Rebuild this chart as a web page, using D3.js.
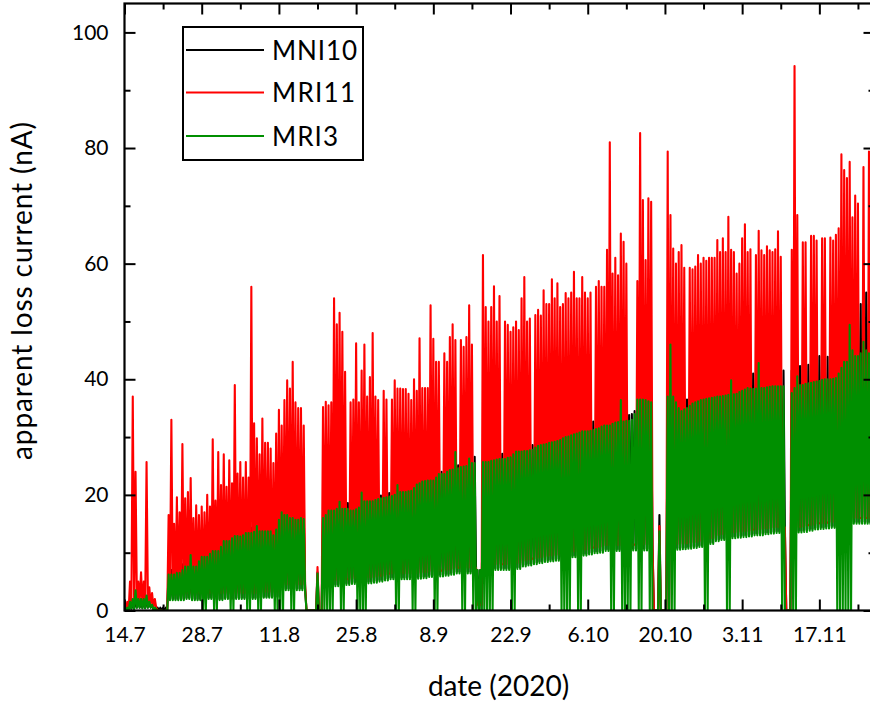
<!DOCTYPE html>
<html>
<head>
<meta charset="utf-8">
<script src="https://cdn.jsdelivr.net/npm/d3@7"></script>
<style>
  body { margin: 0; background: #fff; }
  svg { display: block; }
  text { font-family: Lato, "Open Sans", sans-serif; fill: #000; }
</style>
</head>
<body>
<svg id="chart" width="870" height="706"></svg>
<script>
// Daily readings from 14.7.2020: one at 00:00 ("Am"), one at 12:00 ("Pm"),
// and the dip level reached at 06:00 and 18:00 ("Low").
const seriesStart = "2020-07-14";
const seriesDays = 136;

const xTickLabels = ["14.7", "28.7", "11.8", "25.8", "8.9", "22.9", "6.10", "20.10", "3.11", "17.11"];
const yTickValues = [0, 20, 40, 60, 80, 100];
const yMinorValues = [10, 30, 50, 70, 90];
const legendLabels = ["MNI10", "MRI11", "MRI3"];

// ---- MNI10 ----
const mni10Am = [
  0.5, 1.5, 2, 2, 2, 1, 0.5, 0.5, 7, 7.2,
  7.5, 8.5, 9, 9, 10, 10.5, 11, 11.5, 12.5, 13,
  13.5, 13.8, 14, 14.3, 15, 14.5, 14.3, 13.8, 16.2, 17.5,
  17, 16.5, 16.8, 0, 0, 6.6, 16.8, 17.8, 18, 19.2,
  18.6, 18.6, 18.8, 19.8, 19.5, 19.6, 19.8, 20, 20.3, 20.6,
  21.2, 21.2, 21.3, 23.3, 23, 23.2, 23.2, 23.9, 24.2, 24.5,
  25, 25.2, 25.5, 26.6, 7, 26.2, 26.2, 26.5, 27, 27.2,
  27.5, 28, 28.2, 28.3, 28.6, 29.2, 29.5, 29.6, 30, 30.3,
  30.8, 31.1, 31.4, 31.9, 32, 32.7, 32.9, 33, 33.3, 33.4,
  33.5, 33.6, 34, 35, 35, 35, 0, 16.5, 0, 38,
  37.8, 36, 36.5, 37, 37.5, 38, 38.5, 39, 39.3, 39.5,
  40, 40, 40.2, 40.5, 41, 41.2, 41.3, 41.4, 41.5, 41.5,
  0, 41.5, 42, 42.5, 42.5, 43.5, 44, 44, 43.8, 44.5,
  51, 50, 50, 52, 55, 53, 52
];
const mni10Pm = [
  0.5, 1.5, 2, 2, 1.5, 0.5, 0.5, 0.5, 7, 7.3,
  8, 8.7, 9, 9.5, 10.2, 10.7, 11.2, 12, 12.7, 13.2,
  13.6, 13.9, 14.1, 14.6, 14.8, 14.4, 14, 15, 17, 17.3,
  16.8, 16.6, 16.8, 0, 0, 0, 17.3, 17.9, 18.6, 19,
  18.6, 18.7, 19.3, 19.7, 19.5, 19.7, 19.9, 20.2, 20.4, 21,
  21.2, 21.2, 22.3, 23.1, 23.1, 23.2, 23.5, 24, 24.3, 24.8,
  25.1, 25.3, 26, 26.6, 7, 26.2, 26.3, 26.8, 27.1, 27.3,
  27.7, 28.1, 28.2, 28.5, 28.9, 29.3, 29.5, 29.8, 30.1, 30.5,
  30.9, 31.2, 31.6, 32, 32.3, 32.8, 33, 33.1, 33.3, 33.4,
  33.5, 33.8, 34.5, 35, 35, 35, 0, 0, 38, 37.8,
  37, 36.2, 36.8, 37.2, 37.8, 38.2, 38.8, 39.1, 39.4, 39.8,
  40, 40.1, 40.3, 40.8, 41.1, 41.2, 41.3, 41.5, 41.5, 41.5,
  0, 41.8, 42.3, 42.5, 43, 43.8, 44, 43.9, 44.2, 46,
  51, 50, 51, 53, 55, 53, 52
];
const mni10Low = [
  0, 0.3, 0.5, 0.4, 0.5, 0.2, 0, 0, 2, 2,
  2, 2.2, 2, 2, 2, 2.2, 2, 2, 2.2, 2,
  2.2, 2.2, 2, 2.2, 2.2, 2.4, 2.4, 2.4, 3.5, 3.8,
  3.8, 3.8, 3.8, 0, 0, 0, 4.3, 4.3, 4.5, 4.6,
  4.7, 4.9, 5, 5, 5, 5.1, 5.3, 5.5, 5.7, 5.7,
  5.7, 5.7, 5.7, 5.8, 5.9, 6.1, 6.1, 6.2, 6.3, 6.5,
  6.7, 6.7, 6.7, 6.7, 0, 7.1, 7.1, 7.3, 7.3, 7.3,
  7.3, 7.5, 7.9, 8.1, 8.3, 8.5, 8.7, 8.8, 8.9, 9.3,
  9.3, 9.5, 9.7, 9.8, 10, 10.2, 10.3, 10.6, 10.6, 10.6,
  10.7, 10.7, 10.7, 10.7, 10.7, 10.7, 0, 0, 0, 10.8,
  10.8, 10.9, 11, 11.1, 11.3, 11.6, 11.8, 12.3, 12.5, 12.6,
  12.8, 12.9, 13, 13.1, 13.3, 13.3, 13.5, 13.6, 13.7, 13.7,
  0, 13.7, 13.8, 13.9, 14.1, 14.3, 14.4, 14.5, 14.6, 14.7,
  14.8, 14.9, 15.3, 15.3, 15.3, 15.3, 15.3
];

// ---- MRI11 ----
const mri11Am = [
  1.5, 5, 24, 6.6, 25.7, 3, 0, 0, 16.5, 15,
  17, 19.4, 22.9, 18.2, 18, 20, 29.6, 27.4, 27, 26,
  39, 25.7, 25.7, 56, 29.8, 33.2, 29, 25.5, 34.7, 36.4,
  38.4, 36, 35, 0, 0, 7.5, 35.2, 35.5, 54, 51.5,
  41.3, 36, 46.2, 41.5, 37, 48, 36.4, 38, 6.4, 39.8,
  38.4, 38.3, 36.4, 38, 38.5, 38.5, 47, 43, 44.5, 47.3,
  46.8, 46.8, 47.3, 46, 1, 61.5, 50, 56.1, 54.4, 50,
  48.2, 50, 54, 50, 9, 52, 55.4, 53, 54, 52.5,
  54.9, 55, 54, 57.7, 54, 10.9, 57, 56, 81, 61,
  65.2, 60, 11.4, 57, 71, 71.3, 0, 14.6, 0, 68.4,
  60, 63.2, 11.7, 59, 61.5, 61, 61, 61, 62, 62,
  62.4, 58.3, 64.4, 62, 14, 65.7, 61.5, 62.3, 62.5, 61.2,
  0, 62.4, 68.4, 63.7, 14.8, 64.8, 15.1, 64.4, 64.5, 65,
  78.9, 74.8, 68, 70.4, 76.7, 79.4, 70
];
const mri11Pm = [
  1.5, 37, 5, 5, 4, 2, 0, 0, 33, 19.6,
  28.8, 20.5, 16, 16.5, 17, 18, 19, 21.7, 21.4, 22,
  23.7, 23, 23, 32.4, 27, 29, 28, 30.6, 32, 39.8,
  43, 35, 32, 0, 0, 0, 36.1, 36, 49.5, 48.2,
  5.4, 36.5, 36, 46, 40.4, 37, 6, 36.5, 36.5, 38.4,
  38.3, 37.5, 40, 47.1, 38.5, 52.8, 43, 6.9, 43, 49.5,
  7.4, 45.6, 52.8, 7.4, 1, 52.5, 52.5, 50, 8, 49.4,
  49, 48.5, 57.7, 50.5, 51.1, 51, 53, 57.3, 56.6, 53,
  54, 58.6, 54, 55, 55, 56, 56, 62.4, 58.3, 58,
  63.8, 11.4, 11.4, 82.6, 60.6, 70.7, 0, 0, 79.4, 62.6,
  62, 59.3, 59.3, 59.5, 60, 60.5, 61, 64.1, 64.4, 68.1,
  62, 60, 66.8, 62.5, 61.5, 62.3, 63, 62, 65.6, 14.4,
  0, 94.2, 14.5, 63.7, 64.8, 64, 64.4, 15.2, 64, 66.1,
  76.2, 77.6, 71.8, 16, 16, 72, 70
];
const mri11Low = [
  0, 1, 1.5, 1, 1, 0.5, 0, 0, 3, 3,
  3, 3, 3, 3, 3, 3, 3, 3, 3, 3,
  3, 3, 3, 3, 3.2, 3.2, 3.2, 3.2, 4.5, 4.5,
  4.5, 4.5, 4.5, 0, 0, 0, 5, 5, 5.2, 5.3,
  5.4, 5.6, 5.7, 5.7, 5.7, 5.8, 6, 6.2, 6.4, 6.4,
  6.4, 6.4, 6.4, 6.5, 6.6, 6.8, 6.8, 6.9, 7, 7.2,
  7.4, 7.4, 7.4, 7.4, 1, 7.8, 7.8, 8, 8, 8,
  8, 8.2, 8.6, 8.8, 9, 9.2, 9.4, 9.5, 9.6, 10,
  10, 10.2, 10.4, 10.5, 10.7, 10.9, 11, 11.3, 11.3, 11.3,
  11.4, 11.4, 11.4, 11.4, 11.4, 11.4, 0, 0, 0, 11.5,
  11.5, 11.6, 11.7, 11.8, 12, 12.3, 12.5, 13, 13.2, 13.3,
  13.5, 13.6, 13.7, 13.8, 14, 14, 14.2, 14.3, 14.4, 14.4,
  0, 14.4, 14.5, 14.6, 14.8, 15, 15.1, 15.2, 15.3, 15.4,
  15.5, 15.6, 16, 16, 16, 16, 16
];

// ---- MRI3 ----
const mri3Am = [
  0.5, 1.5, 3.5, 2, 2.6, 1, 0, 0, 6.2, 6.2,
  6.5, 7.6, 9.6, 7.6, 9.3, 9.3, 10.3, 10.3, 12, 12,
  12.9, 12.8, 13.4, 13.4, 14.6, 13.7, 13.7, 13, 15.7, 16.5,
  16, 15.7, 16, 0, 0, 6.4, 16, 17.3, 17.3, 18.8,
  17.6, 17.3, 17.5, 20.4, 18.9, 18.9, 19.3, 19.5, 19.7, 20,
  20.5, 20.5, 20.7, 21.8, 22.3, 22.5, 22.5, 23.6, 23.6, 24.3,
  27.4, 24.8, 25, 25.5, 7, 25.7, 25.7, 26, 26.2, 26.2,
  26.5, 27.5, 27.5, 27.6, 27.8, 28.5, 28.7, 29, 29.2, 29.5,
  30, 30.3, 30.6, 31, 31, 31.2, 31.5, 32, 32, 32.5,
  36.4, 32.8, 33, 36.5, 36.5, 36.2, 0, 13.7, 0, 46,
  36, 34.5, 35, 35.8, 36.2, 36.5, 36.7, 36.9, 37, 37.2,
  39.8, 37.5, 38, 38.5, 38.3, 42.8, 38.5, 38.7, 38.8, 38.8,
  0, 37.6, 40.5, 39, 39.3, 39.5, 39.7, 40, 40, 40.2,
  42, 43, 45, 44, 46.5, 44.5, 44
];
const mri3Pm = [
  0.5, 2, 2, 2, 1.5, 0.5, 0, 0, 6.2, 6.5,
  7, 7.6, 7.6, 8.5, 9.3, 9.8, 10.3, 11, 12, 12.5,
  12.9, 13, 13.4, 13.6, 13.7, 13.7, 13.7, 14, 17, 16.5,
  16, 15.7, 15.8, 0, 0, 0, 16.5, 17.3, 17.6, 17.6,
  17.6, 17.3, 17.8, 18.9, 18.9, 19.1, 19.4, 19.6, 19.8, 21.7,
  20.5, 20.6, 21.2, 22, 22.4, 22.5, 23, 23.6, 24, 24.4,
  24.6, 24.9, 26.3, 25.5, 7, 25.7, 25.9, 26.1, 26.2, 26.4,
  27, 27.5, 27.6, 27.7, 28.2, 28.6, 28.8, 29.1, 29.3, 29.8,
  30.1, 30.5, 30.8, 31, 31.1, 31.4, 31.8, 32, 32.3, 32.6,
  32.7, 32.8, 34, 36.5, 36.4, 36, 0, 0, 37, 37,
  35, 34.8, 35.4, 36, 36.4, 36.6, 36.8, 37, 37.1, 37.3,
  37.4, 37.8, 38.2, 38.4, 38.4, 38.5, 38.6, 38.8, 38.8, 38.8,
  0, 38.5, 39, 39.2, 39.4, 39.6, 39.9, 40, 40.1, 41,
  43, 49.4, 44, 44.5, 45, 44, 44
];
const mri3Low = [
  0, 0.3, 0.5, 0.4, 0.5, 0.2, 0, 0, 1.8, 1.8,
  1.8, 2, 1.8, 1.8, 0, 2, 0, 1.8, 2, 0,
  2, 2, 0, 2, 0, 2.2, 2.2, 0, 0, 3.5,
  0, 3.5, 3.5, 0, 0, 0, 0, 0, 4.2, 0,
  4.4, 4.6, 0, 0, 4.7, 4.8, 5, 5.2, 5.4, 0,
  5.4, 5.4, 0, 5.5, 5.6, 5.8, 0, 5.9, 6, 6.2,
  6.4, 0, 6.4, 0, 0, 0, 0, 7, 7, 7,
  0, 7.2, 7.6, 7.8, 8, 8.2, 8.4, 8.5, 8.6, 0,
  0, 9.2, 0, 9.5, 9.7, 9.9, 10, 10.3, 0, 10.3,
  0, 0, 10.4, 0, 10.4, 0, 0, 0, 0, 0,
  10.5, 10.6, 10.7, 10.8, 11, 0, 11.5, 12, 12.2, 0,
  12.5, 12.6, 12.7, 12.8, 13, 13, 13.2, 13.3, 13.4, 0,
  0, 0, 13.5, 13.6, 13.8, 14, 14.1, 14.2, 14.3, 0,
  0, 0, 15, 15, 15, 15, 15
];

const seriesList = [
  { name: "MNI10", color: "#000000", am: mni10Am, pm: mni10Pm, low: mni10Low },
  { name: "MRI11", color: "#ff0000", am: mri11Am, pm: mri11Pm, low: mri11Low },
  { name: "MRI3",  color: "#008f00", am: mri3Am,  pm: mri3Pm,  low: mri3Low }
];

// ---- layout ----
const plot = { left: 124.5, right: 874.5, top: 3.5, bottom: 610.5 };
const start = d3.utcParse("%Y-%m-%d")(seriesStart);
const end = d3.utcDay.offset(start, seriesDays);

const x = d3.scaleUtc().domain([start, end]).range([plot.left, plot.right]);
const y = d3.scaleLinear().domain([0, 105]).range([plot.bottom, plot.top]);

const svg = d3.select("#chart");

svg.append("defs").append("clipPath").attr("id", "plot-clip")
  .append("rect")
  .attr("x", plot.left).attr("y", plot.top)
  .attr("width", plot.right - plot.left).attr("height", plot.bottom - plot.top);

function readings(s) {
  const pts = [];
  s.am.forEach((v, i) => {
    const day = d3.utcDay.offset(start, i);
    pts.push([day, v]);
    pts.push([d3.utcHour.offset(day, 6), s.low[i]]);
    pts.push([d3.utcHour.offset(day, 12), s.pm[i]]);
    pts.push([d3.utcHour.offset(day, 18), s.low[i]]);
  });
  return pts;
}

const line = d3.line().x(d => x(d[0])).y(d => y(d[1]));

svg.append("g").attr("clip-path", "url(#plot-clip)")
  .selectAll("path").data(seriesList).join("path")
  .attr("d", s => line(readings(s)))
  .attr("fill", "none")
  .attr("stroke", s => s.color)
  .attr("stroke-width", 2.1)
  .attr("stroke-linejoin", "round")
  .attr("stroke-linecap", "butt");

// ---- axes ----
const tickDates = xTickLabels.map(l => {
  const [d, m] = l.split(".").map(Number);
  return new Date(Date.UTC(2020, m - 1, d));
});
const labelByTime = new Map(tickDates.map((d, i) => [+d, xTickLabels[i]]));
const minorDates = d3.range(0, seriesDays + 1, 7)
  .map(k => d3.utcDay.offset(start, k))
  .filter(d => !labelByTime.has(+d));

function styleAxis(g) {
  g.select(".domain").remove();
  g.selectAll(".tick line").attr("stroke", "#000").attr("stroke-width", 2);
  g.selectAll(".tick text")
    .attr("font-family", "Lato, 'Open Sans', sans-serif")
    .attr("font-size", 21).attr("fill", "#000");
}

const majorLen = 11, minorLen = 6;

svg.append("g").attr("transform", `translate(0,${plot.bottom})`)
  .call(d3.axisBottom(x).tickValues(tickDates).tickFormat(d => labelByTime.get(+d))
    .tickSizeInner(-majorLen).tickSizeOuter(0).tickPadding(17))
  .call(styleAxis);
svg.append("g").attr("transform", `translate(0,${plot.bottom})`)
  .call(d3.axisBottom(x).tickValues(minorDates).tickFormat("")
    .tickSizeInner(-minorLen).tickSizeOuter(0))
  .call(styleAxis);
svg.append("g").attr("transform", `translate(0,${plot.top})`)
  .call(d3.axisTop(x).tickValues(tickDates).tickFormat("")
    .tickSizeInner(-majorLen).tickSizeOuter(0))
  .call(styleAxis);
svg.append("g").attr("transform", `translate(0,${plot.top})`)
  .call(d3.axisTop(x).tickValues(minorDates).tickFormat("")
    .tickSizeInner(-minorLen).tickSizeOuter(0))
  .call(styleAxis);
svg.append("g").attr("transform", `translate(${plot.left},0)`)
  .call(d3.axisLeft(y).tickValues(yTickValues).tickFormat(d3.format("d"))
    .tickSizeInner(-majorLen).tickSizeOuter(0).tickPadding(16))
  .call(styleAxis);
svg.append("g").attr("transform", `translate(${plot.left},0)`)
  .call(d3.axisLeft(y).tickValues(yMinorValues).tickFormat("")
    .tickSizeInner(-minorLen).tickSizeOuter(0))
  .call(styleAxis);
svg.append("g").attr("transform", `translate(${plot.right},0)`)
  .call(d3.axisRight(y).tickValues(yTickValues).tickFormat("")
    .tickSizeInner(-majorLen).tickSizeOuter(0))
  .call(styleAxis);
svg.append("g").attr("transform", `translate(${plot.right},0)`)
  .call(d3.axisRight(y).tickValues(yMinorValues).tickFormat("")
    .tickSizeInner(-minorLen).tickSizeOuter(0))
  .call(styleAxis);

// frame
svg.append("rect")
  .attr("x", plot.left).attr("y", plot.top)
  .attr("width", plot.right - plot.left).attr("height", plot.bottom - plot.top)
  .attr("fill", "none").attr("stroke", "#000").attr("stroke-width", 2.2);

// axis titles
svg.append("text")
  .attr("x", (plot.left + plot.right) / 2 - 1).attr("y", 696)
  .attr("text-anchor", "middle").attr("font-size", 28)
  .text("date (2020)");
svg.append("text")
  .attr("transform", "translate(32,291) rotate(-90)")
  .attr("text-anchor", "middle").attr("font-size", 28)
  .attr("textLength", 338).attr("lengthAdjust", "spacing")
  .text("apparent loss current (nA)");

// legend
const legendWidths = [85, 83, 66];
const legend = svg.append("g");
legend.append("rect")
  .attr("x", 183).attr("y", 27).attr("width", 180).attr("height", 133)
  .attr("fill", "#fff").attr("stroke", "#000").attr("stroke-width", 2);
const rowY = [50, 92.5, 136];
legend.selectAll("line.key").data(seriesList).join("line")
  .attr("class", "key")
  .attr("x1", 186).attr("x2", 264)
  .attr("y1", (d, i) => rowY[i]).attr("y2", (d, i) => rowY[i])
  .attr("stroke", d => d.color).attr("stroke-width", 2.2);
legend.selectAll("text").data(legendLabels).join("text")
  .attr("x", 272).attr("y", (d, i) => rowY[i] + 9.5)
  .attr("font-size", 26)
  .attr("textLength", (d, i) => legendWidths[i]).attr("lengthAdjust", "spacing")
  .text(d => d);
</script>
</body>
</html>
